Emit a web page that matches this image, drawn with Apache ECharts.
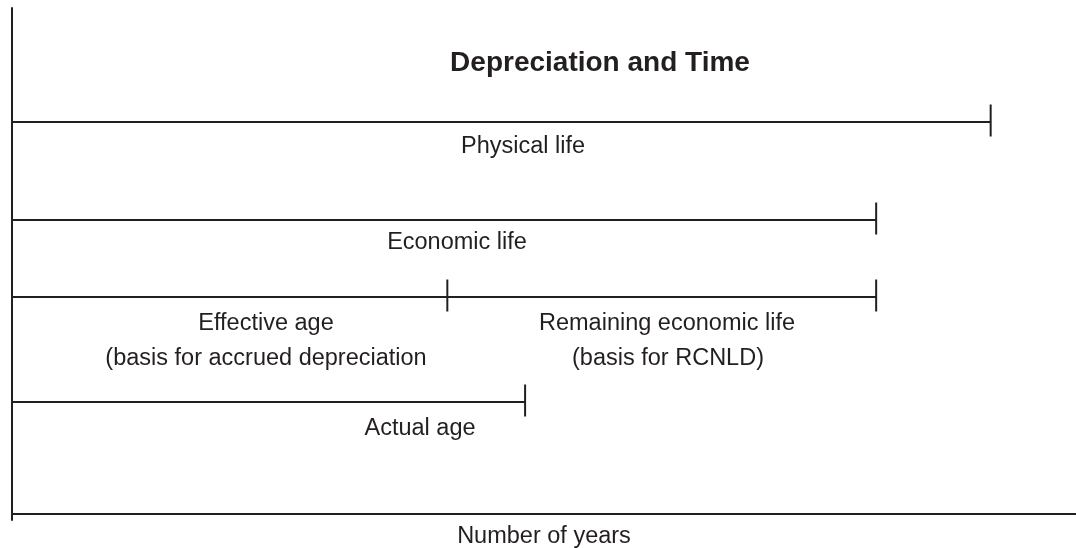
<!DOCTYPE html>
<html>
<head>
<meta charset="utf-8">
<script src="https://cdn.jsdelivr.net/npm/echarts@6/dist/echarts.min.js"></script>
<style>
html,body{margin:0;padding:0;background:#fff;}
#chart{width:1076px;height:548px;}
</style>
</head>
<body>
<div id="chart"></div>
<script>
// Timeline segments (years)
const segmentNames = ['Physical life', 'Economic life', 'Effective age', 'Remaining economic life', 'Actual age'];
const segmentStart = [0, 0, 0, 40.3, 0];
const segmentEnd = [90.6, 80, 40.3, 80, 47.5];
const segmentRow = [392, 294, 217, 217, 112];
const axisMaxYears = 98.5;

const titleText = 'Depreciation and Time';
const axisName = 'Number of years';
const labelTexts = [
  ['Physical life', 523, 147],
  ['Economic life', 457, 243],
  ['Effective age', 266, 324],
  ['(basis for accrued depreciation', 266, 359],
  ['Remaining economic life', 667, 324],
  ['(basis for RCNLD)', 668, 359],
  ['Actual age', 420, 429]
];

const INK = '#231f20';
const FONT = '"Liberation Sans", Arial, Helvetica, sans-serif';

const chart = echarts.init(document.getElementById('chart'));
const data = segmentNames.map((n, i) => [segmentStart[i], segmentEnd[i], segmentRow[i]]);

chart.setOption({
  animation: false,
  backgroundColor: '#fff',
  grid: { left: 12, right: 0, top: 8, bottom: 28, containLabel: false, outerBoundsMode: 'none' },
  xAxis: {
    type: 'value', min: 0, max: axisMaxYears,
    axisLine: { show: true, onZero: true, lineStyle: { color: INK, width: 2 } },
    axisTick: { show: false }, axisLabel: { show: false }, splitLine: { show: false },
    name: axisName, nameLocation: 'middle', nameGap: 5,
    nameTextStyle: { color: INK, fontSize: 23.5, fontFamily: FONT, verticalAlign: 'top' }
  },
  yAxis: {
    type: 'value', min: -6, max: 506,
    axisLine: { show: true, onZero: false, lineStyle: { color: INK, width: 2 } },
    axisTick: { show: false }, axisLabel: { show: false }, splitLine: { show: false }
  },
  graphic: [
    { type: 'text', x: 600, y: 63, style: { text: titleText, fill: INK, font: 'bold 28px ' + FONT, textAlign: 'center', textVerticalAlign: 'middle' } }
  ].concat(labelTexts.map(t => ({
    type: 'text', x: t[1], y: t[2],
    style: { text: t[0], fill: INK, font: '23.5px ' + FONT, textAlign: 'center', textVerticalAlign: 'middle' }
  }))),
  series: [{
    type: 'custom',
    coordinateSystem: 'cartesian2d',
    encode: { x: [0, 1], y: 2 },
    data: data,
    renderItem: function (params, api) {
      const p0 = api.coord([api.value(0), api.value(2)]);
      const p1 = api.coord([api.value(1), api.value(2)]);
      return {
        type: 'group',
        children: [
          { type: 'line', shape: { x1: p0[0], y1: p0[1], x2: p1[0], y2: p1[1] }, style: { stroke: INK, lineWidth: 2 } },
          { type: 'line', shape: { x1: p1[0], y1: p1[1] - 17.5, x2: p1[0], y2: p1[1] + 14.5 }, style: { stroke: INK, lineWidth: 2 } }
        ]
      };
    }
  }]
});
</script>
</body>
</html>
